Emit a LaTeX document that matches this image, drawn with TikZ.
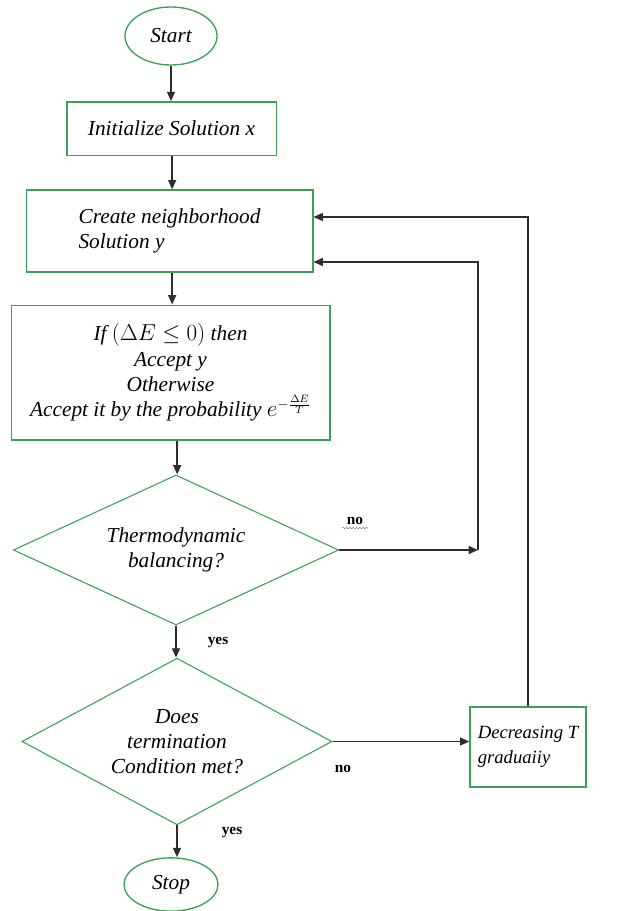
\documentclass[tikz,border=0pt]{standalone}
\usepackage{fontspec}
\setmainfont{Liberation Serif}
\usetikzlibrary{shapes.geometric,arrows.meta,decorations.pathmorphing}
\definecolor{boxgreen}{RGB}{60,160,85}
\definecolor{linegray}{RGB}{45,45,45}
\begin{document}
\begin{tikzpicture}[x=0.75pt,y=-0.75pt,
  term/.style={ellipse,draw=boxgreen,line width=1pt,font=\fontsize{16}{19}\selectfont\itshape},
  proc/.style={rectangle,draw=boxgreen,line width=1pt,align=left,inner sep=2pt,font=\fontsize{16}{19}\selectfont\itshape},
  decide/.style={diamond,aspect=2.2,draw=boxgreen,line width=0.8pt,align=center,inner sep=0pt,font=\fontsize{16}{19}\selectfont\itshape},
  flow/.style={draw=linegray,line width=1.1pt,-{Triangle[length=7pt,width=6pt]}},
  lbl/.style={font=\fontsize{11.5}{13}\selectfont\bfseries}]
  \useasboundingbox (0,0) rectangle (620,911);
  \node[term,minimum width=69pt,minimum height=43.5pt] (start) at (171,36) {Start};
  \node[proc,minimum width=157pt,minimum height=40pt] (init) at (171.5,128.5) {Initialize Solution x};
  \node[proc,minimum width=215pt,minimum height=61.5pt] (nbr) at (169.5,231) {Create neighborhood\\Solution y};
  \node[proc,align=center,minimum width=239pt,minimum height=101pt] (accept) at (170.5,372.5)
        {If $(\Delta E\le 0)$ then\\Accept y\\Otherwise\\Accept it by the probability $e^{-\frac{\Delta E}{T}}$};
  \node[decide,minimum width=244pt,minimum height=112.5pt] (balance) at (176,550) {Thermodynamic\\balancing?};
  \node[decide,minimum width=232.5pt,minimum height=125pt] (termin) at (177,741.5) {Does\\termination\\Condition met?};
  \node[proc,minimum width=87pt,minimum height=60pt,font=\fontsize{14}{19}\selectfont\itshape] (cool) at (528,747)
        {Decreasing T\\graduaiiy};
  \node[term,minimum width=70.5pt,minimum height=40pt] (stop) at (171,884.5) {Stop};
  % main line
  \draw[flow] (start.south) -- (start.south |- init.north);
  \draw[flow] ([xshift=0.5pt]init.south) -- ([xshift=0.5pt]init.south |- nbr.north);
  \draw[flow] ([xshift=2pt]nbr.south) -- ([xshift=2pt]nbr.south |- accept.north);
  \draw[flow] ([xshift=5pt]accept.south) -- ([xshift=5pt]accept.south |- balance.north);
  \draw[flow] (balance.south) -- (balance.south |- termin.north);
  \draw[flow] (termin.south) -- (termin.south |- stop.north);
  % loops back
  \coordinate (inner) at (478,550);
  \coordinate (innertop) at (478,262);
  \coordinate (outertop) at (528,217);
  \draw[flow] (balance.east) -- (inner);
  \draw[flow] (inner) -- (innertop) -- (innertop -| nbr.east);
  \draw[flow] (termin.east) -- (termin.east -| cool.west);
  \draw[flow] (cool.north) -- (outertop) -- (outertop -| nbr.east);
  \node[lbl] (no1) at (355,521) {no};
  \draw[decorate,decoration={snake,amplitude=0.5pt,segment length=2.5pt},gray,line width=0.4pt]
        ([yshift=1pt]no1.south west) -- ([yshift=1pt]no1.south east);
  \node[lbl] (yes1) at (218,643) {yes};
  \node[lbl] (no2) at (343,769) {no};
  \node[lbl] (yes2) at (232,833) {yes};
\end{tikzpicture}
\end{document}
